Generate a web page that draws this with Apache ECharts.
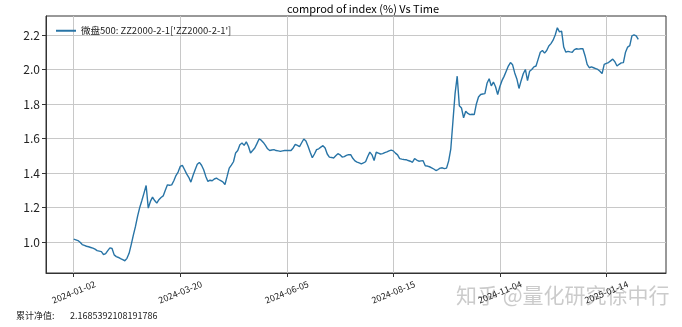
<!DOCTYPE html>
<html><head><meta charset="utf-8">
<script src="https://cdn.jsdelivr.net/npm/echarts@6/dist/echarts.min.js"></script>
<style>html,body{margin:0;padding:0;background:#fff}#c{width:682px;height:327px}</style>
</head><body><div id="c"></div>
<script>
const tickIndex = [0, 50, 100, 150, 200, 250];
const tickLabels = ['2024-01-02', '2024-03-20', '2024-06-05', '2024-08-15', '2024-11-04', '2025-01-14'];
const yTicks = [1.0, 1.2, 1.4, 1.6, 1.8, 2.0, 2.2];
const seriesName = "微盘500: ZZ2000-2-1['ZZ2000-2-1']";
const values = [
1.016,1.012,1.008,0.998,0.985,0.980,0.975,0.972,0.968,0.964,
0.958,0.950,0.947,0.944,0.926,0.932,0.950,0.966,0.962,0.925,
0.915,0.910,0.903,0.897,0.891,0.905,0.934,0.985,1.040,1.090,
1.150,1.200,1.240,1.283,1.327,1.196,1.235,1.260,1.240,1.225,
1.245,1.258,1.267,1.300,1.331,1.329,1.331,1.355,1.385,1.405,
1.438,1.444,1.420,1.395,1.375,1.347,1.385,1.419,1.450,1.461,
1.445,1.419,1.380,1.351,1.358,1.355,1.365,1.370,1.362,1.355,
1.348,1.333,1.380,1.428,1.445,1.465,1.516,1.530,1.564,1.574,
1.560,1.580,1.555,1.516,1.530,1.545,1.570,1.597,1.590,1.577,
1.560,1.540,1.530,1.533,1.535,1.530,1.528,1.525,1.528,1.530,
1.531,1.530,1.530,1.545,1.566,1.560,1.553,1.575,1.597,1.585,
1.555,1.520,1.488,1.510,1.535,1.540,1.550,1.558,1.545,1.510,
1.492,1.490,1.487,1.500,1.512,1.505,1.492,1.495,1.502,1.506,
1.506,1.485,1.470,1.463,1.458,1.453,1.458,1.465,1.495,1.521,
1.505,1.472,1.520,1.515,1.510,1.512,1.518,1.522,1.528,1.532,
1.528,1.515,1.505,1.483,1.480,1.478,1.477,1.472,1.468,1.462,
1.483,1.475,1.468,1.470,1.471,1.442,1.440,1.436,1.430,1.423,
1.414,1.420,1.428,1.430,1.425,1.428,1.470,1.540,1.700,1.860,
1.961,1.790,1.777,1.720,1.758,1.745,1.738,1.740,1.738,1.800,
1.840,1.855,1.858,1.860,1.920,1.946,1.905,1.927,1.900,1.855,
1.900,1.935,1.960,1.990,2.020,2.040,2.027,1.980,1.945,1.890,
1.935,1.975,2.000,1.935,1.990,2.000,2.015,2.020,2.060,2.100,
2.110,2.095,2.110,2.136,2.150,2.170,2.200,2.242,2.218,2.222,
2.130,2.100,2.105,2.102,2.100,2.115,2.120,2.118,2.120,2.120,
2.080,2.030,2.010,2.015,2.010,2.005,2.000,1.990,1.976,2.030,
2.035,2.040,2.050,2.060,2.045,2.020,2.030,2.038,2.040,2.100,
2.130,2.138,2.195,2.200,2.195,2.174
];
const finalLabel = '累计净值:';
const finalValue = '2.1685392108191786';
const watermark = '知乎 @量化研究徐中行';

const font = "'Noto Sans CJK SC', 'DejaVu Sans', sans-serif";
const chart = echarts.init(document.getElementById('c'), null, {renderer: 'canvas'});
chart.setOption({
  animation: false,
  backgroundColor: '#fff',
  textStyle: {fontFamily: font},
  title: {
    text: 'comprod of index (%) Vs Time',
    left: 358, top: -2, textAlign: 'center',
    textStyle: {fontSize: 11, fontWeight: 'normal', color: '#000', fontFamily: font}
  },
  legend: {
    left: 51, top: 21, itemWidth: 20, itemHeight: 2, itemGap: 5,
    icon: 'rect',
    textStyle: {fontSize: 9.5, color: '#222', fontFamily: font},
    data: [seriesName]
  },
  grid: {left: 46, right: 16, top: 16, bottom: 54, show: true, borderColor: '#333', borderWidth: 1},
  xAxis: {
    type: 'value', min: -13, max: 278,
    axisLine: {show: true, onZero: false, lineStyle: {color: '#333'}},
    axisTick: {show: true, length: 4, lineStyle: {color: '#333'}, customValues: tickIndex},
    axisLabel: {
      customValues: tickIndex, rotate: 22, fontSize: 9, color: '#222', margin: 19,
      align: 'center', verticalAlign: 'middle',
      formatter: v => tickLabels[tickIndex.indexOf(Math.round(v))] || ''
    },
    splitLine: {show: true, lineStyle: {color: '#c8c8c8', width: 1}}
  },
  yAxis: {
    type: 'value', min: 0.82, max: 2.31,
    axisLine: {show: true, onZero: false, lineStyle: {color: '#333'}},
    axisTick: {show: true, length: 4, lineStyle: {color: '#333'}, customValues: yTicks},
    axisLabel: {customValues: yTicks, fontSize: 12, color: '#222', margin: 6, formatter: v => v.toFixed(1)},
    splitLine: {show: true, lineStyle: {color: '#c8c8c8', width: 1}}
  },
  series: [{
    name: seriesName, type: 'line', showSymbol: false,
    lineStyle: {color: '#2874a6', width: 1.4}, itemStyle: {color: '#2874a6'},
    data: values.map((v, i) => [i, v])
  }],
  graphic: [
    {type: 'text', left: 16, top: 311, style: {text: finalLabel, fill: '#222', font: '9px ' + font}},
    {type: 'text', left: 70, top: 311, style: {text: finalValue, fill: '#222', font: '9px ' + font}},
    {type: 'text', left: 456, top: 285, silent: true, style: {text: watermark, fill: 'rgba(160,160,160,0.55)', font: '21px ' + font}}
  ]
});
</script></body></html>
